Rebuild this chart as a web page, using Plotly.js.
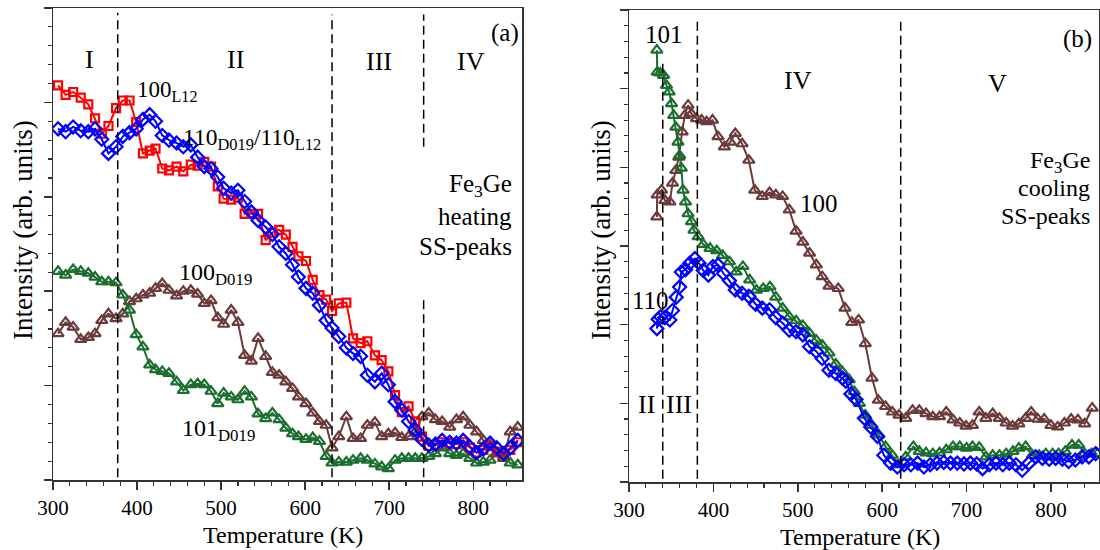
<!DOCTYPE html>
<html>
<head>
<meta charset="utf-8">
<script src="https://cdn.plot.ly/plotly-3.0.1.min.js"></script>
<style>html,body{margin:0;padding:0;background:#fff;}#chart{width:1100px;height:550px;}</style>
</head>
<body>
<div id="chart"></div>
<script>
// ---------- Panel (a): heating, shared temperature grid (K) ----------
const tHeat = [306,315,324,333,342,350,358,366,375,383,391,399,407,415,422,430,438,447,455,464,
  472,480,488,496,503,512,520,528,536,544,553,561,569,577,585,592,601,609,617,625,
  632,640,649,657,666,674,683,691,699,707,715,723,731,739,747,755,763,772,780,788,
  796,804,812,820,828,836,844,853];
const h100L12 = [4.18,4.08,4.11,4.05,3.98,3.83,3.67,3.75,3.94,4.02,4.02,3.79,3.46,3.49,3.51,3.30,3.28,3.32,3.27,3.34,
  3.33,3.37,3.32,3.11,2.98,2.97,2.99,2.82,2.82,2.82,2.54,2.62,2.65,2.60,2.47,2.37,2.32,2.12,1.96,1.91,
  1.79,1.87,1.88,1.50,1.45,1.47,1.32,1.27,1.15,0.90,0.72,0.78,0.62,0.46,0.36,0.37,0.40,0.39,0.38,0.40,
  0.34,0.29,0.32,0.36,0.30,0.27,0.32,0.40];
const h110 = [3.72,3.69,3.74,3.70,3.69,3.72,3.61,3.46,3.53,3.64,3.68,3.72,3.82,3.87,3.80,3.65,3.60,3.57,3.53,3.55,
  3.42,3.32,3.30,3.21,3.09,3.04,3.07,2.95,2.84,2.75,2.68,2.60,2.47,2.40,2.28,2.15,2.03,1.98,1.85,1.69,
  1.61,1.52,1.40,1.34,1.31,1.11,1.04,1.13,1.01,0.83,0.74,0.62,0.53,0.43,0.37,0.38,0.42,0.40,0.39,0.42,
  0.35,0.29,0.33,0.39,0.34,0.28,0.34,0.42];
const h100D019 = [1.55,1.67,1.62,1.49,1.51,1.55,1.69,1.76,1.71,1.76,1.89,1.92,1.96,1.98,2.03,2.08,2.01,1.95,2.00,2.01,
  1.97,1.87,1.90,1.72,1.65,1.80,1.67,1.32,1.26,1.50,1.31,1.14,1.11,1.04,0.97,0.88,0.81,0.71,0.62,0.58,
  0.34,0.46,0.67,0.44,0.44,0.58,0.61,0.46,0.49,0.50,0.45,0.46,0.51,0.67,0.71,0.64,0.62,0.56,0.64,0.67,
  0.58,0.51,0.42,0.37,0.28,0.23,0.51,0.56];
const h101D019 = [2.21,2.17,2.23,2.21,2.19,2.15,2.10,2.10,2.09,1.96,1.80,1.54,1.41,1.22,1.17,1.15,1.13,1.04,0.95,1.01,
  1.02,1.01,0.94,0.81,0.92,0.88,0.85,0.94,0.88,0.70,0.65,0.71,0.64,0.55,0.49,0.46,0.43,0.45,0.41,0.25,
  0.18,0.19,0.19,0.21,0.23,0.21,0.17,0.14,0.12,0.21,0.23,0.23,0.23,0.23,0.25,0.28,0.34,0.28,0.26,0.28,
  0.23,0.18,0.19,0.21,0.28,0.26,0.18,0.16];

// ---------- Panel (b): cooling ----------
const tC101 = [333,333.5,337,341,344.5,347.6,350.4,353,355.5,358,360,362,364,367,370,374,377,382,388,396,
  404,411,419,427,435,443,451,459,467,474,482,490,498,506,514,522,529,537,545,553,
  561,567,573,580,588,596,604,612,620,628,637,644,652,660,668,676,684,692,700,707,
  715,723,731,739,747,755,762,770,778,786,794,802,809,817,825,833,840,848,855];
const c101 = [5.49,5.21,5.20,5.17,5.04,4.96,4.81,4.66,4.51,4.32,4.15,3.99,3.71,3.56,3.41,3.31,3.20,3.12,3.02,2.97,
  2.94,2.88,2.80,2.67,2.74,2.57,2.44,2.46,2.48,2.35,2.21,2.10,2.05,1.99,1.89,1.80,1.74,1.64,1.50,1.40,
  1.30,1.15,1.00,0.85,0.72,0.60,0.45,0.34,0.22,0.32,0.45,0.39,0.37,0.36,0.37,0.41,0.45,0.45,0.43,0.45,
  0.44,0.32,0.34,0.34,0.36,0.39,0.43,0.45,0.34,0.34,0.36,0.36,0.36,0.39,0.47,0.47,0.36,0.36,0.36];
const tC100 = [333,333.4,338.6,342.5,348.4,351.6,355.5,359,363,366,370,374,380,386,392,399,405.5,413,420,426,
  434,442,449,458,466.5,474,482,490,498,506,514,522,529,537,548,556,564,572,580,588,
  595.5,604,612,620,628,636,644,652,660,668,676,684,692,699.5,707,715,723,731,739,747,
  754.5,762,770,776.6,784.5,792,800,808,816,824,832,840,849];
const c100 = [3.37,3.65,3.71,3.58,3.56,3.80,3.96,4.13,4.45,4.66,4.79,4.68,4.62,4.60,4.58,4.60,4.39,4.26,4.32,4.43,
  4.30,4.09,3.71,3.63,3.68,3.65,3.63,3.46,3.19,3.05,2.91,2.76,2.61,2.49,2.46,2.21,2.03,2.06,1.76,1.32,
  1.04,0.96,0.89,0.85,0.81,0.91,0.91,0.87,0.83,0.83,0.89,0.79,0.75,0.71,0.72,0.89,0.81,0.87,0.81,0.75,
  0.71,0.74,0.81,0.89,0.80,0.80,0.72,0.70,0.75,0.80,0.79,0.74,0.94];
const tC110 = [333,334.6,337.4,342.5,348.4,351.6,356,360,362,367,372,378,383,388,394,399.5,405.5,412,419,426,
  434,442,450,458,466.5,474,482,490,498,506,514,522,529,537,545,553,557,563,569,579,
  586.5,594.4,602,610,618,626,634,642,649.5,657,665,673,681,689,697,704.6,712,719,727,735,
  743,750.6,758.5,766,774,782,790,798,805.6,813.6,821,829,837,845,853];
const c110 = [1.95,2.07,2.10,2.09,2.06,2.18,2.35,2.48,2.67,2.70,2.78,2.84,2.78,2.69,2.63,2.74,2.76,2.65,2.56,2.44,
  2.40,2.36,2.26,2.21,2.19,2.09,2.02,1.93,1.91,1.87,1.72,1.66,1.57,1.42,1.38,1.32,1.28,1.12,1.05,0.81,
  0.70,0.58,0.34,0.24,0.19,0.22,0.22,0.24,0.19,0.22,0.24,0.25,0.24,0.24,0.23,0.24,0.23,0.17,0.22,0.24,
  0.22,0.24,0.22,0.15,0.24,0.32,0.30,0.29,0.30,0.29,0.26,0.28,0.32,0.32,0.36];

// boundaries between regions (K)
const bordersA = [377, 632, 741];
const bordersB = [340, 381, 622];

const RED = '#ff0000', BLUE = '#0000ff', BROWN = '#6b3a3a', GREEN = '#1b6e2e';
const W = 1100, H = 550;
const FONT = '"Liberation Serif", "Times New Roman", "DejaVu Serif", serif';

function series(x, y, color, symbol, xa, ya, size) {
  return {x: x, y: y, xaxis: xa, yaxis: ya, type: 'scatter', mode: 'lines+markers',
    line: {color: color, width: 2},
    marker: {symbol: symbol, size: size || 9, color: color, line: {color: color, width: 2.2}},
    showlegend: false, hoverinfo: 'skip'};
}

const data = [
  series(tHeat, h100D019, BROWN, 'triangle-up-open', 'x', 'y', 10),
  series(tHeat, h101D019, GREEN, 'triangle-up-open', 'x', 'y', 10),
  series(tHeat, h100L12, RED, 'square-open', 'x', 'y', 8),
  series(tHeat, h110, BLUE, 'diamond-open', 'x', 'y', 10),
  series(tC100, c100, BROWN, 'triangle-up-open', 'x2', 'y2', 10),
  series(tC101, c101, GREEN, 'triangle-up-open', 'x2', 'y2', 10),
  series(tC110, c110, BLUE, 'diamond-open', 'x2', 'y2', 10)
];

function px(x) { return x / W; }
function py(y) { return 1 - y / H; }

const axisCommon = {
  showline: true, linecolor: '#333', linewidth: 1.5, mirror: true,
  ticks: 'outside', ticklen: 8, tickwidth: 1.5, tickcolor: '#333',
  showgrid: false, zeroline: false, fixedrange: true
};
const xCommon = Object.assign({}, axisCommon, {
  tick0: 300, dtick: 100,
  minor: {ticks: 'outside', ticklen: 4, tickwidth: 1.2, tickcolor: '#333', dtick: 20, tick0: 300, showgrid: false},
  tickfont: {family: FONT, size: 21, color: '#000'}
});
const yCommon = Object.assign({}, axisCommon, {
  tick0: 0, dtick: 1, showticklabels: false,
  minor: {ticks: 'outside', ticklen: 4, tickwidth: 1.2, tickcolor: '#333', dtick: 0.2, tick0: 0, showgrid: false}
});

const shapes = [];
function vline(xa, ya, x, y0, y1) {
  shapes.push({type: 'line', xref: xa, yref: ya, x0: x, x1: x, y0: y0, y1: y1,
    line: {color: '#000', width: 1.5, dash: '9px,5px'}});
}
vline('x', 'y', bordersA[0], 0.03, 4.95);
vline('x', 'y', bordersA[1], 0.03, 4.93);
vline('x', 'y', bordersA[2], 3.53, 4.93);
vline('x', 'y', bordersA[2], 0.03, 1.94);
vline('x2', 'y2', bordersB[0], 0.04, 5.36);
vline('x2', 'y2', bordersB[1], 0.04, 5.87);
vline('x2', 'y2', bordersB[2], 0.04, 5.9);

const annotations = [];
function txt(text, x, y, size, xanchor) {
  annotations.push({text: text, xref: 'paper', yref: 'paper', x: px(x), y: py(y),
    xanchor: xanchor || 'center', yanchor: 'middle', showarrow: false,
    font: {family: FONT, size: size, color: '#000'}});
}
// panel (a)
txt('I', 89, 59, 26);
txt('II', 235, 59, 26);
txt('III', 379.5, 61, 26);
txt('IV', 471, 61, 26);
txt('(a)', 505, 33, 25);
txt('100<sub>L12</sub>', 135, 91, 23, 'left');
txt('110<sub>D019</sub>/110<sub>L12</sub>', 181, 139, 23.5, 'left');
txt('100<sub>D019</sub>', 177, 274, 24, 'left');
txt('101<sub>D019</sub>', 180, 430, 24, 'left');
txt('Fe<sub>3</sub>Ge', 514, 185, 25, 'right');
txt('heating', 514, 216, 25, 'right');
txt('SS-peaks', 514, 246, 25, 'right');
// panel (b)
txt('101', 663.5, 35, 25);
txt('IV', 798, 81, 26);
txt('V', 997, 84, 26);
txt('(b)', 1077, 39, 25);
txt('Fe<sub>3</sub>Ge', 1092, 162, 24, 'right');
txt('cooling', 1092, 188, 24, 'right');
txt('SS-peaks', 1092, 216, 24, 'right');
txt('100', 818.5, 203, 25);
txt('110', 650.5, 300, 25);
txt('II', 646, 404, 26);
txt('III', 678.5, 404, 26);
// axis titles
txt('Temperature (K)', 283, 535, 24);
txt('Temperature (K)', 860, 537, 24);
annotations.push({text: 'Intensity (arb. units)', xref: 'paper', yref: 'paper', x: px(23), y: py(230),
  xanchor: 'center', yanchor: 'middle', textangle: -90, showarrow: false,
  font: {family: FONT, size: 27, color: '#000'}});
annotations.push({text: 'Intensity (arb. units)', xref: 'paper', yref: 'paper', x: px(601), y: py(230),
  xanchor: 'center', yanchor: 'middle', textangle: -90, showarrow: false,
  font: {family: FONT, size: 27, color: '#000'}});

const layout = {
  width: W, height: H,
  margin: {l: 0, r: 0, t: 0, b: 0},
  paper_bgcolor: '#fff', plot_bgcolor: '#fff',
  showlegend: false,
  font: {family: FONT},
  xaxis: Object.assign({}, xCommon, {domain: [px(53), px(522)], range: [300, 858], anchor: 'y'}),
  yaxis: Object.assign({}, yCommon, {domain: [py(480), py(8)], range: [0, 5], anchor: 'x'}),
  xaxis2: Object.assign({}, xCommon, {domain: [px(629), px(1099)], range: [300, 857], anchor: 'y2'}),
  yaxis2: Object.assign({}, yCommon, {domain: [py(482), py(10)], range: [0, 6], anchor: 'x2'}),
  shapes: shapes,
  annotations: annotations
};

Plotly.newPlot('chart', data, layout, {staticPlot: true, displayModeBar: false});
</script>
</body>
</html>
